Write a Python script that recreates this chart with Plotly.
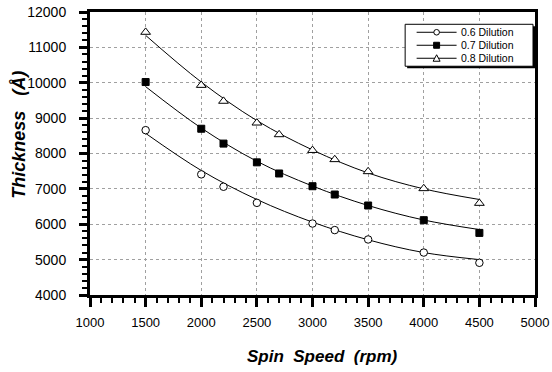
import plotly.graph_objects as go

# ---- data ----
speed_06 = [1500, 2000, 2200, 2500, 3000, 3200, 3500, 4000, 4500]
thick_06 = [8660, 7410, 7060, 6605, 6020, 5835, 5570, 5200, 4910]

speed_07 = [1500, 2000, 2200, 2500, 2700, 3000, 3200, 3500, 4000, 4500]
thick_07 = [10020, 8700, 8280, 7750, 7435, 7075, 6840, 6530, 6115, 5755]

speed_08 = [1500, 2000, 2200, 2500, 2700, 3000, 3200, 3500, 4000, 4500]
thick_08 = [11430, 9930, 9480, 8865, 8535, 8090, 7830, 7490, 7010, 6595]

# fitted trend curves
fit_x = [1500, 2000, 2500, 3000, 3500, 4000, 4500]
fit_06 = [8570, 7520, 6700, 6060, 5560, 5200, 5000]
fit_07 = [9890, 8720, 7780, 7080, 6530, 6120, 5850]
fit_08 = [11340, 10020, 8930, 8100, 7450, 7000, 6700]

series_names = ["0.6 Dilution", "0.7 Dilution", "0.8 Dilution"]

x_ticks = [1000, 1500, 2000, 2500, 3000, 3500, 4000, 4500, 5000]
y_ticks = [4000, 5000, 6000, 7000, 8000, 9000, 10000, 11000, 12000]

x_title = "Spin  Speed  (rpm)"
y_title = "Thickness   (Å)"

FONT = "Liberation Sans, Arial, Helvetica, sans-serif"

fig = go.Figure()

for fy in (fit_06, fit_07, fit_08):
    fig.add_trace(go.Scatter(x=fit_x, y=fy, mode="lines",
                             line=dict(color="black", width=1, shape="spline", smoothing=1.0),
                             showlegend=False, hoverinfo="skip"))

fig.add_trace(go.Scatter(x=speed_06, y=thick_06, mode="markers", name=series_names[0],
                         marker=dict(symbol="circle", size=7.5, color="white",
                                     line=dict(color="black", width=1)), showlegend=False))
fig.add_trace(go.Scatter(x=speed_07, y=thick_07, mode="markers", name=series_names[1],
                         marker=dict(symbol="square", size=7, color="black",
                                     line=dict(color="black", width=1)), showlegend=False))
fig.add_trace(go.Scatter(x=speed_08, y=thick_08, mode="markers", name=series_names[2],
                         marker=dict(symbol="triangle-up", size=8.5, color="white",
                                     line=dict(color="black", width=1)), showlegend=False))

# ---- layout geometry (pixels) ----
W, H = 552, 372
PL, PR, PT, PB = 89.5, 535, 11.7, 295


def px(x):
    return (x - PL) / (PR - PL)


def py(y):
    return (PB - y) / (PB - PT)


shapes = []
annotations = []

# custom legend box with drop shadow
shapes.append(dict(type="rect", xref="paper", yref="paper", x0=px(407), x1=px(535),
                   y0=py(68), y1=py(26), fillcolor="black", line=dict(width=0), layer="above"))
shapes.append(dict(type="rect", xref="paper", yref="paper", x0=px(405), x1=px(533),
                   y0=py(66), y1=py(24), fillcolor="white", line=dict(color="black", width=1),
                   layer="above"))

rows = [32.0, 45.0, 58.0]
lx0, lx1, mx = 416.5, 456.5, 436.5
for i, ry in enumerate(rows):
    shapes.append(dict(type="line", xref="paper", yref="paper", x0=px(lx0), x1=px(lx1),
                       y0=py(ry), y1=py(ry), line=dict(color="black", width=1), layer="above"))
    annotations.append(dict(x=px(460), y=py(ry), xref="paper", yref="paper",
                            text=series_names[i], showarrow=False, xanchor="left",
                            yanchor="middle", borderpad=0,
                            font=dict(family=FONT, size=10.5, color="black")))

r = 2.8
shapes.append(dict(type="circle", xref="paper", yref="paper", x0=px(mx - r), x1=px(mx + r),
                   y0=py(rows[0] + r), y1=py(rows[0] - r), fillcolor="white",
                   line=dict(color="black", width=1), layer="above"))
shapes.append(dict(type="rect", xref="paper", yref="paper", x0=px(mx - 3), x1=px(mx + 3),
                   y0=py(rows[1] + 3), y1=py(rows[1] - 3), fillcolor="black",
                   line=dict(color="black", width=1), layer="above"))
tri = "M {:.5f} {:.5f} L {:.5f} {:.5f} L {:.5f} {:.5f} Z".format(
    px(mx - 3.5), py(rows[2] + 3), px(mx + 3.5), py(rows[2] + 3), px(mx), py(rows[2] - 3.5))
shapes.append(dict(type="path", xref="paper", yref="paper", path=tri, fillcolor="white",
                   line=dict(color="black", width=1), layer="above"))

# axis titles (placed as in the reference)
annotations.append(dict(x=px(322), y=py(357), xref="paper", yref="paper", text=x_title,
                        showarrow=False, xanchor="center", yanchor="middle",
                        font=dict(family=FONT, size=17, color="black", weight="bold",
                                  style="italic")))
annotations.append(dict(x=px(19), y=py(135), xref="paper", yref="paper", text=y_title,
                        showarrow=False, xanchor="center", yanchor="middle", textangle=-90,
                        font=dict(family=FONT, size=18, color="black", weight="bold",
                                  style="italic")))

axis_common = dict(
    showline=True, linecolor="black", linewidth=3, mirror=True,
    ticks="outside", tickcolor="black", tickwidth=2.5,
    showgrid=True, gridcolor="#a0a0a0", gridwidth=1, griddash="dot",
    zeroline=False, automargin=False,
)

fig.update_layout(
    width=W, height=H,
    margin=dict(l=PL, r=W - PR, t=PT, b=H - PB, pad=0, autoexpand=False),
    paper_bgcolor="white", plot_bgcolor="white",
    showlegend=False,
    shapes=shapes, annotations=annotations,
    xaxis=dict(range=[1000, 5000], tickvals=x_ticks, ticktext=[str(v) for v in x_ticks],
               ticklen=9, ticklabelstandoff=4,
               tickfont=dict(family=FONT, size=13, color="black"),
               minor=dict(dtick=100, ticks="outside", ticklen=5, tickwidth=2,
                          tickcolor="black", showgrid=False),
               **axis_common),
    yaxis=dict(range=[4000, 12000], tickvals=y_ticks, ticktext=[str(v) for v in y_ticks],
               ticklen=8, ticklabelstandoff=10,
               tickfont=dict(family=FONT, size=14, color="black"),
               minor=dict(dtick=200, ticks="outside", ticklen=5, tickwidth=2,
                          tickcolor="black", showgrid=False),
               **axis_common),
)

fig.write_html("out.html", config={"displayModeBar": False},
               post_script="document.body.style.margin='0px';document.body.style.overflow='hidden';")
